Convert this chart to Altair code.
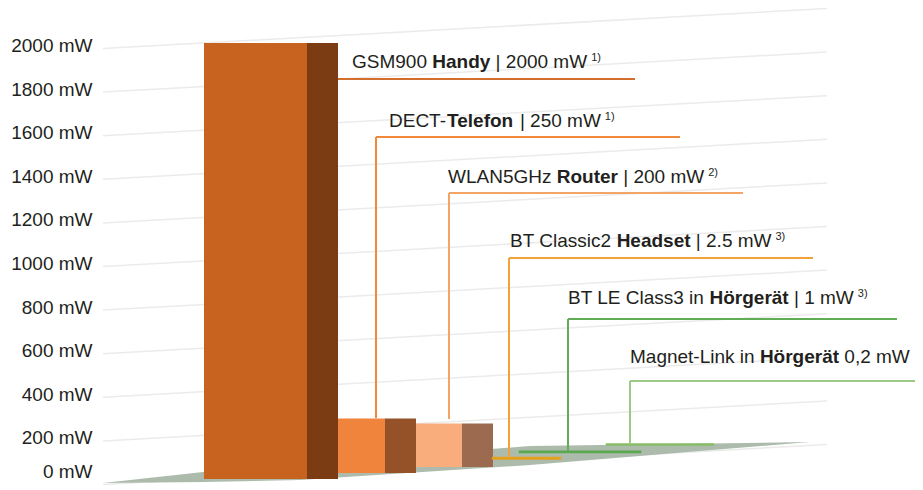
import altair as alt
import pandas as pd

# ---------------- data ----------------
CATEGORIES = ["GSM900 Handy", "DECT-Telefon", "WLAN5GHz Router",
              "BT Classic2 Headset", "BT LE Class3 in Hörgerät", "Magnet-Link in Hörgerät"]
POWER_MW = [2000, 250, 200, 2.5, 1, 0.2]
LABEL_PRE = ["GSM900", "DECT-", "WLAN5GHz", "BT Classic2", "BT LE Class3 in", "Magnet-Link in"]
LABEL_BOLD = ["Handy", "Telefon", "Router", "Headset", "Hörgerät", "Hörgerät"]
LABEL_POST = ["| 2000 mW", "| 250 mW", "| 200 mW", "| 2.5 mW", "| 1 mW", "0,2 mW"]
LABEL_SUP = ["1)", "1)", "2)", "3)", "3)", ""]
TICKS_MW = [0, 200, 400, 600, 800, 1000, 1200, 1400, 1600, 1800, 2000]

# ---------------- style / layout (pseudo 3D) ----------------
FRONT_COLORS = ["#c8631f", "#f0843c", "#f9ac7c", "#e3a11f", "#5aa850", "#86bd66"]
SIDE_COLORS = ["#7b3b13", "#955127", "#9b6a4f", "#e3a11f", "#5aa850", "#86bd66"]
LEADER_COLORS = ["#d36f2c", "#f08a3a", "#f4a464", "#f3a23a", "#62ac58", "#9dc986"]
TEXT_COLOR = "#231f20"
FONT = "Liberation Sans"
FS = 19
SUP_FS = 11

# layout units: x = horizontal layout position, pixel rows converted to mW through K
P0, K = 481.5, 0.218
VIEW_H = 480
VMAX = (P0 - 8) / K
VMIN = VMAX - VIEW_H / K


def mw(p):
    return (P0 - p) / K


FRONT_L = [204, 338, 416, 493, 520, 607]
FRONT_R = [307, 385, 462, 560, 640, 713]
SIDE_R = [338, 416, 493, 560, 640, 713]
BASE_ROW = [479, 473, 467, 458.5, 452, 444.5]

UL_ROW = [79, 137, 193, 258, 319, 381]
UL_X1 = [338, 376, 449, 509, 568, 630]
UL_X2 = [635, 680, 743, 813, 897, 915]
VL_BOTTOM = [None, 418, 419, 458, 451, 443]
TEXT_X = [352, 389, 448, 510, 568, 630]
BASELINE_ROW = [68, 127, 183, 247, 304, 363]

FLOOR_X = [103, 203, 300, 530, 810]
FLOOR_TOP = [483, 472, 464, 446, 442]
FLOOR_BOTTOM = [483, 482, 480, 465, 442]

GRID_X1, GRID_X2, GRID_RISE = 103, 827, 40

# Arial / Liberation Sans advance widths (per 1000 em)
REG = {' ': 278, '|': 260, '(': 333, ')': 333, ',': 278, '-': 333, '.': 278,
       'A': 667, 'B': 667, 'C': 722, 'D': 722, 'E': 667, 'G': 778, 'H': 722, 'L': 556,
       'M': 833, 'N': 722, 'S': 667, 'T': 611, 'W': 944,
       'a': 556, 'c': 500, 'd': 556, 'e': 556, 'f': 278, 'g': 556, 'h': 556, 'i': 222,
       'k': 500, 'l': 222, 'm': 833, 'n': 556, 'o': 556, 'r': 333, 's': 500, 't': 278,
       'u': 556, 'y': 500, 'z': 500, 'ä': 556, 'ö': 556}
BOLD = {' ': 278, 'H': 722, 'T': 611, 'R': 722, 'a': 556, 'd': 611, 'e': 556, 'f': 333,
        'g': 611, 'l': 278, 'n': 611, 'o': 611, 'r': 389, 's': 556, 't': 333, 'u': 611,
        'y': 556, 'ä': 556, 'ö': 611}


def tw(s, table, size):
    return sum(table.get(c, 556) for c in s) * size / 1000.0


# ---------------- tables ----------------
XS = alt.Scale(domain=[100, 915], nice=False, zero=False)
YS = alt.Scale(domain=[VMIN, VMAX], nice=False, zero=False)

y_axis = alt.Axis(values=TICKS_MW, labelExpr="datum.value + ' mW'", grid=False, domain=False,
                  ticks=False, title=None, labelFont=FONT, labelFontSize=FS, labelColor=TEXT_COLOR,
                  labelPadding=8,
                  labelOffset={"condition": {"test": "datum.value === 0", "value": -10}, "value": 0})


def X(f):
    return alt.X(f, type="quantitative", scale=XS, axis=None)


def Y(f):
    return alt.Y(f, type="quantitative", scale=YS, axis=y_axis)


grid_df = pd.DataFrame({
    "v": TICKS_MW,
    "x1": GRID_X1, "x2": GRID_X2,
    "y1": [t - 3 / K for t in TICKS_MW],
    "y2": [t + (GRID_RISE - 3) / K for t in TICKS_MW],
})

floor_df = pd.DataFrame({
    "x": FLOOR_X,
    "top": [mw(p) for p in FLOOR_TOP],
    "bottom": [mw(p) for p in FLOOR_BOTTOM],
})

bars = pd.DataFrame({
    "cat": CATEGORIES, "value": POWER_MW,
    "fl": FRONT_L, "fr": FRONT_R, "sr": SIDE_R,
    "front": FRONT_COLORS, "side": SIDE_COLORS,
    "base": [mw(p) for p in BASE_ROW],
})
bars["top"] = bars["base"] + bars["value"]
big = bars[bars["value"] >= 10]
tiny = bars[bars["value"] < 10]

ul_df = pd.DataFrame({"x1": UL_X1, "x2": UL_X2, "y": [mw(p) for p in UL_ROW],
                      "c": LEADER_COLORS})
vl_df = pd.DataFrame({"x": UL_X1[1:], "y1": [mw(p) for p in UL_ROW[1:]],
                      "y2": [mw(p) for p in VL_BOTTOM[1:]], "c": LEADER_COLORS[1:]})

reg_rows, bold_rows, sup_rows = [], [], []
for i in range(len(CATEGORIES)):
    x = TEXT_X[i]
    y = mw(BASELINE_ROW[i])
    reg_rows.append({"x": x, "y": y, "t": LABEL_PRE[i]})
    gap = 0 if LABEL_PRE[i].endswith("-") else tw(" ", REG, FS)
    bx = x + tw(LABEL_PRE[i], REG, FS) + gap
    bold_rows.append({"x": bx, "y": y, "t": LABEL_BOLD[i]})
    px = bx + tw(LABEL_BOLD[i], BOLD, FS) + tw(" ", REG, FS)
    reg_rows.append({"x": px, "y": y, "t": LABEL_POST[i]})
    if LABEL_SUP[i]:
        sx = px + tw(LABEL_POST[i], REG, FS) + 4
        sup_rows.append({"x": sx, "y": mw(BASELINE_ROW[i] - 7), "t": LABEL_SUP[i]})

reg_df = pd.DataFrame(reg_rows)
bold_df = pd.DataFrame(bold_rows)
sup_df = pd.DataFrame(sup_rows)

# ---------------- layers ----------------
grid = alt.Chart(grid_df).mark_rule(color="#ebebeb", strokeWidth=1.5).encode(
    x=X("x1"), x2="x2", y=Y("y1"), y2="y2")

floor = alt.Chart(floor_df).mark_area(color="#a8b7a7", opacity=0.95).encode(
    x=X("x"), y=Y("bottom"), y2="top")

side = alt.Chart(big).mark_rect().encode(
    x=X("fr"), x2="sr", y=Y("top"), y2="base", color=alt.Color("side:N", scale=None))
front = alt.Chart(big).mark_rect().encode(
    x=X("fl"), x2="fr", y=Y("top"), y2="base", color=alt.Color("front:N", scale=None))
flat = alt.Chart(tiny).mark_rect(strokeWidth=2.5).encode(
    x=X("fl"), x2="sr", y=Y("top"), y2="base",
    color=alt.Color("front:N", scale=None), stroke=alt.Stroke("front:N", scale=None))

underline = alt.Chart(ul_df).mark_rule(strokeWidth=2).encode(
    x=X("x1"), x2="x2", y=Y("y"), color=alt.Color("c:N", scale=None))
vline = alt.Chart(vl_df).mark_rule(strokeWidth=2).encode(
    x=X("x"), y=Y("y1"), y2="y2", color=alt.Color("c:N", scale=None))

txt_reg = alt.Chart(reg_df).mark_text(align="left", baseline="alphabetic", font=FONT,
                                      fontSize=FS, color=TEXT_COLOR).encode(
    x=X("x"), y=Y("y"), text="t:N")
txt_bold = alt.Chart(bold_df).mark_text(align="left", baseline="alphabetic", font=FONT,
                                        fontSize=FS, fontWeight="bold", color=TEXT_COLOR).encode(
    x=X("x"), y=Y("y"), text="t:N")
txt_sup = alt.Chart(sup_df).mark_text(align="left", baseline="alphabetic", font=FONT,
                                      fontSize=SUP_FS, color=TEXT_COLOR).encode(
    x=X("x"), y=Y("y"), text="t:N")

chart = alt.layer(grid, floor, side, front, flat, vline, underline, txt_reg, txt_bold, txt_sup).properties(
    width=815, height=VIEW_H,
    autosize=alt.AutoSizeParams(type="none"),
    padding={"left": 92, "top": 0, "right": 0, "bottom": 0},
    background="white",
).configure_view(stroke=None)

chart.save("out.html", embed_options={"renderer": "svg", "actions": False})
